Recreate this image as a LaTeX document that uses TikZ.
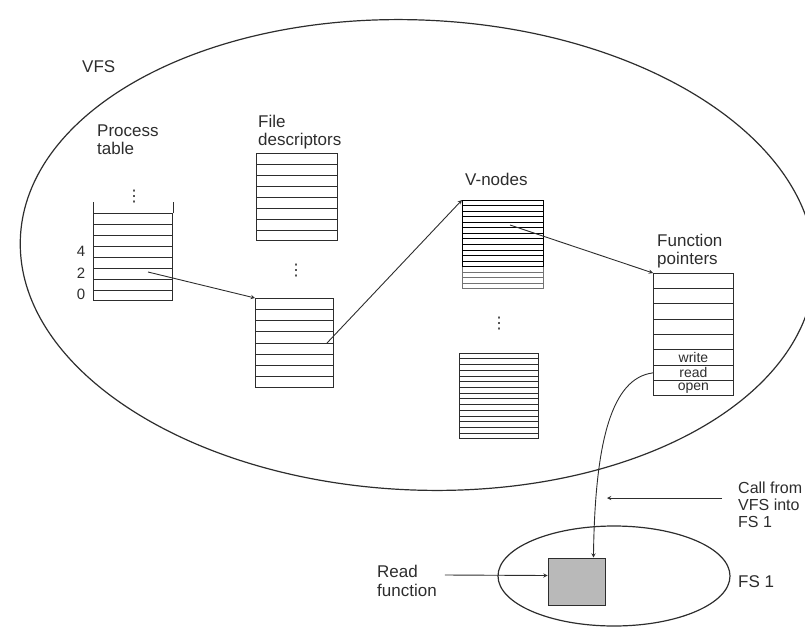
\documentclass[tikz,border=0pt]{standalone}
\usepackage{fontspec}
\setmainfont{Liberation Sans}
\newfontfamily\symbolfont{DejaVu Sans}
\usetikzlibrary{shapes.geometric, arrows, positioning, calc}
\definecolor{Tinta}{RGB}{45, 45, 45}
\definecolor{Gris}{RGB}{115, 115, 115}
\definecolor{Moteado}{RGB}{185, 185, 185}

\begin{document}
\begin{tikzpicture}[
        x=1pt, y=-1pt,
        region/.style={
            ellipse,
            draw=Tinta,
            line width=1.2pt,
            inner sep=0pt
        },
        stack/.style={
            rectangle,
            draw=Tinta,
            line width=0.9pt,
            inner sep=0pt,
            anchor=north west
        },
        caption/.style={
            align=left,
            inner sep=0pt,
            anchor=west,
            text=Tinta,
            font=\fontsize{17}{18}\selectfont
        },
        cell/.style={
            inner sep=0pt,
            text=Tinta,
            font=\fontsize{14}{14}\selectfont
        },
        dotmark/.style={
            inner sep=0pt,
            text=Tinta,
            font=\symbolfont\fontsize{16}{16}\selectfont
        },
        slotline/.style={
            draw=Tinta,
            line width=0.8pt
        },
        arrow/.style={
            ->,
            >=stealth,
            line width=0.9pt,
            draw=Tinta
        }
    ]
        \useasboundingbox (0,0) rectangle (805,629);

        % Regions (VFS and FS 1)
        \node[region, rotate=-2.5, minimum width=795pt, minimum height=470pt] (vfs) at (417.5,255) {};
        \node[region, minimum width=232pt, minimum height=100pt] (fs) at (614,576) {};
        \node[caption] (vfsname) at (82,67) {VFS};
        \node[caption] (fsname) at (738,582) {FS 1};

        % Process table (open at the top)
        \node[stack, minimum width=79pt, minimum height=87pt] (ptab) at (93,213) {};
        \draw[slotline] (ptab.north west) -- ++(0,-11);
        \draw[slotline] (ptab.north east) -- ++(0,-11);
        \foreach \k in {1,...,7}
            \draw[slotline] ($(ptab.north west)!\k/8!(ptab.south west)$) -- ($(ptab.north east)!\k/8!(ptab.south east)$);
        \foreach \i in {0,2,4}
            \node[cell, font=\fontsize{15}{15}\selectfont] (slot\i) at (81,{300-(\i+0.5)*10.875}) {\i};
        \node[caption] (ptabname) at (97,140) {Process\\table};
        \node[dotmark] (pdots) at (134,197) {⋮};

        % File descriptors
        \node[stack, minimum width=81pt, minimum height=87pt] (fdtop) at (256,153) {};
        \node[stack, minimum width=78pt, minimum height=89pt] (fdbot) at (255,298) {};
        \foreach \k in {1,...,7} {
            \draw[slotline] ($(fdtop.north west)!\k/8!(fdtop.south west)$) -- ($(fdtop.north east)!\k/8!(fdtop.south east)$);
            \draw[slotline] ($(fdbot.north west)!\k/8!(fdbot.south west)$) -- ($(fdbot.north east)!\k/8!(fdbot.south east)$);
        }
        \node[caption] (fdname) at (258,132) {File\\descriptors};
        \node[dotmark] (fddots) at (296,271) {⋮};

        % V-nodes
        \node[stack, draw=Gris, minimum width=81pt, minimum height=88pt] (vtop) at (462,200) {};
        \foreach \k in {1,...,11}
            \draw[slotline, draw=black] ($(vtop.north west)!\k/16!(vtop.south west)$) -- ($(vtop.north east)!\k/16!(vtop.south east)$);
        \foreach \k in {13,14,15}
            \draw[slotline, draw=Gris] ($(vtop.north west)!\k/16!(vtop.south west)$) -- ($(vtop.north east)!\k/16!(vtop.south east)$);
        \node[stack, draw=black, line width=1.4pt, minimum width=81pt, minimum height=66pt] (vsel) at (462,200) {};
        \node[stack, minimum width=79pt, minimum height=85pt] (vbot) at (459,353) {};
        \foreach \k in {1,...,14}
            \draw[slotline, line width=0.7pt] ($(vbot.north west)!\k/15!(vbot.south west)$) -- ($(vbot.north east)!\k/15!(vbot.south east)$);
        \node[caption] (vname) at (465,179) {V-nodes};
        \node[dotmark] (vdots) at (499,324) {⋮};

        % Function pointers
        \node[stack, minimum width=80pt, minimum height=122pt] (fptr) at (653,273) {};
        \foreach \k in {1,...,7}
            \draw[slotline] ($(fptr.north west)!\k/8!(fptr.south west)$) -- ($(fptr.north east)!\k/8!(fptr.south east)$);
        \node[cell] (fwrite) at ($(fptr.north)!5.5/8!(fptr.south)$) {write};
        \node[cell] (fread) at ($(fptr.north)!6.5/8!(fptr.south)$) {read};
        \node[cell] (fopen) at ($(fptr.north)!7.5/8!(fptr.south)$) {open};
        \node[caption] (fptrname) at (657,251) {Function\\pointers};

        % Read function inside FS 1
        \node[rectangle, draw=Tinta, fill=Moteado, line width=0.9pt, minimum width=57pt, minimum height=47pt] (rfunc) at (576.5,581.5) {};
        \node[caption, font=\fontsize{17}{19}\selectfont] (readname) at (377,581) {Read\\function};
        \node[caption, font=\fontsize{16}{17}\selectfont] (callname) at (738,505) {Call from\\VFS into\\FS 1};

        % Connectors
        \coordinate (pslot) at (148,272);
        \coordinate (fdslot) at (327,343);
        \coordinate (vslot) at (510,225);
        \coordinate (callstart) at (722,498);
        \coordinate (calltip) at (607,498);
        \draw[arrow] (pslot) -- (fdbot.north west);
        \draw[arrow] (fdslot) -- (vtop.north west);
        \draw[arrow] (vslot) -- (fptr.north west);
        \draw[arrow] (fptr.west |- fread) .. controls (612,378) and (595,440) .. ($(rfunc.north east)+(-12,0)$);
        \draw[arrow] (callstart) -- (calltip);
        \draw[arrow] ($(readname.east)+(8,-6)$) -- ($(rfunc.west)+(0,-6)$);
    \end{tikzpicture}
\end{document}
